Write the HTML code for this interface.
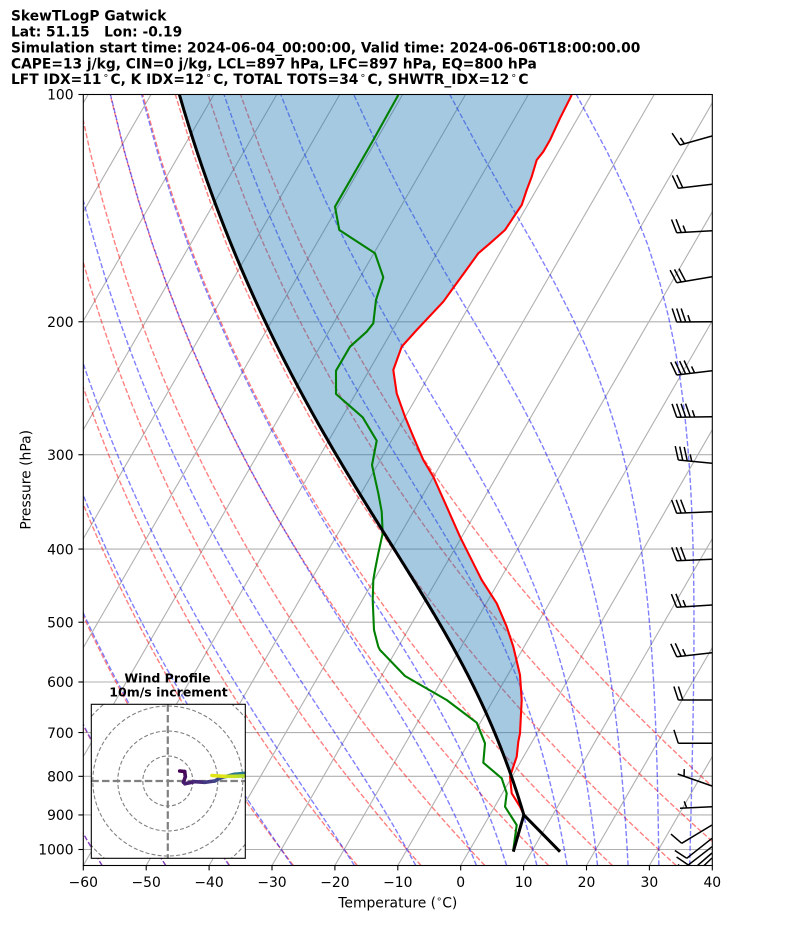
<!DOCTYPE html>
<html><head><meta charset="utf-8">
<style>
html,body{margin:0;padding:0;background:#fff;}
body{width:794px;height:937px;overflow:hidden;position:relative;}
svg text{font-family:"DejaVu Sans","Liberation Sans",sans-serif;fill:#000;}
</style></head><body>
<svg id="s" width="794" height="937" xmlns="http://www.w3.org/2000/svg" style="position:absolute;left:0;top:0">
<defs>
<clipPath id="ax"><rect x="83.3" y="94.5" width="629" height="771"/></clipPath>
<clipPath id="hc"><rect x="91.3" y="704.3" width="154" height="154"/></clipPath>
</defs>
<rect x="0" y="0" width="794" height="937" fill="#fff"/>
<g id="bg" clip-path="url(#ax)"></g>
<g id="dat" clip-path="url(#ax)"></g>
<g id="frm"></g>
<g id="hodo"></g>
<g font-weight="bold" font-size="13.8">
<text x="11" y="20.5">SkewTLogP Gatwick</text>
<text x="11" y="36.3">Lat: 51.15&#160;&#160; Lon: -0.19</text>
<text x="11" y="52.3">Simulation start time: 2024-06-04_00:00:00, Valid time: 2024-06-06T18:00:00.00</text>
<text x="11" y="68.3">CAPE=13 j/kg, CIN=0 j/kg, LCL=897 hPa, LFC=897 hPa, EQ=800 hPa</text>
<text x="11" y="84.2">LFT IDX=11<tspan font-size="9.7" font-weight="normal" dx="1.5" dy="-5.5">∘</tspan><tspan dx="1.5" dy="5.5">C, K IDX=12</tspan><tspan font-size="9.7" font-weight="normal" dx="1.5" dy="-5.5">∘</tspan><tspan dx="1.5" dy="5.5">C, TOTAL TOTS=34</tspan><tspan font-size="9.7" font-weight="normal" dx="1.5" dy="-5.5">∘</tspan><tspan dx="1.5" dy="5.5">C, SHWTR_IDX=12</tspan><tspan font-size="9.7" font-weight="normal" dx="1.5" dy="-5.5">∘</tspan><tspan dx="1.5" dy="5.5">C</tspan></text>
</g>
<text x="397.8" y="907.7" font-size="13.9" text-anchor="middle">Temperature (<tspan font-size="9.7" dy="-5.5">∘</tspan><tspan dy="5.5">C)</tspan></text>
<text transform="translate(30.5,479.8) rotate(-90)" font-size="13.9" text-anchor="middle">Pressure (hPa)</text>
<g id="tl" font-size="13.9"></g>
<g font-weight="bold" font-size="12.5" text-anchor="middle">
<text x="167.5" y="682.3">Wind Profile</text>
<text x="168.5" y="696.7">10m/s increment</text>
</g>
</svg>
<script>
(function(){
var L=83.3,R=712.3,T=94.5,B=865.5,SX=6.29,K=Math.tan(Math.PI/6);
function Y(p){return T+755*Math.log10(p/100);}
function X(t,p){return L+(t+60)*SX+(B-Y(p))*K;}
function f(v){return (+v).toFixed(2);}
function pl(pts,attrs){return '<polyline points="'+pts.map(function(q){return f(q[0])+','+f(q[1]);}).join(' ')+'" fill="none" '+attrs+'/>';}
var h='';
for(var t=-150;t<=40;t+=10){h+='<line x1="'+f(X(t,1050))+'" y1="'+f(Y(1050))+'" x2="'+f(X(t,100))+'" y2="'+f(Y(100))+'" stroke="#b0b0b0" stroke-width="1.1"/>';}
for(var p=100;p<=1000;p+=100){h+='<line x1="'+L+'" y1="'+f(Y(p))+'" x2="'+R+'" y2="'+f(Y(p))+'" stroke="#b0b0b0" stroke-width="1.1"/>';}
var P=[];for(var i=0;i<50;i++)P.push(1050-i*(950/49));
for(var t0=-60;t0<=50;t0+=10){
  var pts=P.map(function(p){var tt=(t0+273.15)*Math.pow(p/1000,0.28571)-273.15;return [X(tt,p),Y(p)];});
  h+=pl(pts,'stroke="#ff0000" stroke-opacity="0.5" stroke-width="1.39" stroke-dasharray="5.14 2.22"');
}
var Rd=287.04749,Cp=1004.6662,Lv=2.50084e6,EPS=0.6219569;
function dTdp(p,T){var es=6.112*Math.exp(17.67*(T-273.15)/(T-29.65));var rs=EPS*es/(p-es);return (Rd*T+Lv*rs)/(Cp+Lv*Lv*rs*EPS/(Rd*T*T))/p;}
function step(p,T,dp){var k1=dTdp(p,T),k2=dTdp(p+dp/2,T+dp/2*k1),k3=dTdp(p+dp/2,T+dp/2*k2),k4=dTdp(p+dp,T+dp*k3);return T+dp/6*(k1+2*k2+2*k3+k4);}
function moistTo(T,p0,p1){var n=Math.max(1,Math.ceil(Math.abs(p1-p0)/2));var dp=(p1-p0)/n;var p=p0;for(var i=0;i<n;i++){T=step(p,T,dp);p+=dp;}return T;}
var mt=[-60,-50,-40,-30,-20,-10,0,5,10,15,20,25,30,35,40];
mt.forEach(function(t0){
  var pts=P.map(function(p){var tt=moistTo(t0+273.15,1000,p)-273.15;return [X(tt,p),Y(p)];});
  h+=pl(pts,'stroke="#0000ff" stroke-opacity="0.5" stroke-width="1.39" stroke-dasharray="5.14 2.22"');
});
document.getElementById('bg').innerHTML=h;

var red=[[571.7,95],[560,118.3],[550,140],[543.3,151.7],[536.7,160],[531.7,176.7],[526.7,190],[521.7,205],[518.3,210],[505,230],[490,243.3],[478.3,253.3],[465,271.7],[451.7,290],[443.3,301.7],[416.7,330],[401.7,346.7],[393.3,370],[396.7,393.3],[405,416.7],[413.3,436.7],[423.3,460],[433.3,476.7],[446.7,506.7],[460,536.7],[470,556.7],[481.7,580],[496.7,603.3],[506.7,626.7],[513.3,646.7],[520,675],[521.7,700],[520,733.3],[518.3,741.7],[516.7,756.7],[513.3,766.7],[510,776.7],[511.7,793.3],[520,806.7],[524,815],[560,851.7]];
var grn=[[398.3,95],[373.3,140],[335,206.7],[339.3,230],[375,253.3],[383.3,277.3],[376,300],[373.3,323.3],[366.7,331.7],[350,346.7],[336,370.7],[336,394],[346.7,403.3],[362.7,417.3],[376.7,440.7],[372,465],[378.3,493.3],[381.7,511.7],[382.7,533.3],[378.3,553.3],[375,570],[373.3,580],[372.7,600],[374,630],[378.3,646.7],[380,650],[405,676],[446.7,700],[476.7,722.7],[485,743.3],[483.3,762.7],[501.7,778.3],[506.7,793.3],[505,806.7],[516.7,825],[513.3,850]];
var pLcl=900,tLcl=5.4;
var par=[];for(var pp=100;pp<=pLcl;pp+=5){var tt=moistTo(tLcl+273.15,pLcl,pp)-273.15;par.push([X(tt,pp),Y(pp)]);}
var lclX=X(tLcl,pLcl),lclY=Y(pLcl);
var fillPts=[];
par.forEach(function(q){if(q[1]<=777)fillPts.push(q);});
var rr=red.filter(function(q){return q[1]<=777;}).reverse();
fillPts=fillPts.concat(rr);
var d='';
d+='<polygon points="'+fillPts.map(function(q){return f(q[0])+','+f(q[1]);}).join(' ')+'" fill="#1f77b4" fill-opacity="0.4" stroke="none"/>';
d+=pl(red,'stroke="#ff0000" stroke-width="2.1" stroke-linejoin="round"');
d+=pl(grn,'stroke="#008000" stroke-width="2.1" stroke-linejoin="round"');
d+=pl(par.concat([[lclX,lclY],[560,851.7]]),'stroke="#000" stroke-width="3" stroke-linejoin="round"');
d+=pl([[513.3,851.7],[lclX,lclY]],'stroke="#000" stroke-width="3"');
function barb(bx,by,tx,ty,nf,nh){
  var dx=tx-bx,dy=ty-by,len=Math.sqrt(dx*dx+dy*dy),ux=dx/len,uy=dy/len,nx=-uy,ny=ux;
  var s='M'+f(bx)+','+f(by)+'L'+f(tx)+','+f(ty);
  var H=13.5,W=4.4,SP=4.5,off=0,px,py;
  for(var i=0;i<nf;i++){px=tx-ux*off;py=ty-uy*off;s+='M'+f(px)+','+f(py)+'L'+f(px+nx*H+ux*W)+','+f(py+ny*H+uy*W);off+=SP;}
  if(nh){if(nf==0)off+=1.5*SP;px=tx-ux*off;py=ty-uy*off;s+='M'+f(px)+','+f(py)+'L'+f(px+nx*H/2+ux*W/2)+','+f(py+ny*H/2+uy*W/2);}
  return '<path d="'+s+'" stroke="#000" stroke-width="1.5" fill="none" stroke-linecap="butt"/>';
}
var bl=[[712,136,680,145,1,1],[712,184.3,678.3,188.3,2,0],[712,230.7,676.7,232.7,2,1],[712,276.7,676.7,282.7,3,0],[712,321.7,676.7,322,3,1],[712,370.7,676.7,375,4,1],[712,416.7,676.7,417.3,4,1],[712,463.3,678.3,460,3,1],[712,511.7,676.7,513.3,3,0],[712,559.3,676.7,560.7,3,0],[712,605,676.7,607.3,2,1],[712,652.7,676.7,656.7,2,1],[712,700,678.3,700,2,0],[712,743.3,678.3,743.3,1,0],[712,786,677.7,774,0,1],[712,806.7,680,808.3,0,1],[712,825,681.7,843.3,1,0],[712,838.3,686.7,858.3,1,0],[712,846.7,688.3,865,1,0],[712,853,690,872,1,0],[712,858,692,877,1,0]];
bl.forEach(function(b){d+=barb(b[0],b[1],b[2],b[3],b[4],b[5]);});
document.getElementById('dat').innerHTML=d;

var fr='<rect x="'+L+'" y="'+T+'" width="'+(R-L)+'" height="'+(B-T)+'" fill="none" stroke="#000" stroke-width="1.1"/>';
var tl='';
for(var p=100;p<=1000;p+=100){var y=Y(p);fr+='<line x1="'+(L-4.9)+'" y1="'+f(y)+'" x2="'+L+'" y2="'+f(y)+'" stroke="#000" stroke-width="1.1"/>';tl+='<text x="73.6" y="'+f(y+5.2)+'" text-anchor="end">'+p+'</text>';}
for(var t=-60;t<=40;t+=10){var x=L+(t+60)*SX;fr+='<line x1="'+f(x)+'" y1="'+B+'" x2="'+f(x)+'" y2="'+(B+4.9)+'" stroke="#000" stroke-width="1.1"/>';tl+='<text x="'+f(x)+'" y="887" text-anchor="middle">'+(t<0?'\u2212'+(-t):t)+'</text>';}
document.getElementById('frm').innerHTML=fr;
document.getElementById('tl').innerHTML=tl;

var cx=167.8,cy=781;
var ho='<rect x="91.3" y="704.3" width="154" height="154" fill="#fff" stroke="none"/>';
ho+='<g clip-path="url(#hc)">';
[25,50,75,100].forEach(function(r){ho+='<circle cx="'+cx+'" cy="'+cy+'" r="'+r+'" fill="none" stroke="#808080" stroke-width="1.1" stroke-dasharray="4 2.2"/>';});
ho+='<line x1="91.3" y1="'+cy+'" x2="245.3" y2="'+cy+'" stroke="#808080" stroke-width="2.2" stroke-dasharray="7.5 3.2"/>';
ho+='<line x1="'+cx+'" y1="704.3" x2="'+cx+'" y2="858.3" stroke="#808080" stroke-width="2.2" stroke-dasharray="7.5 3.2"/>';
var hp=[[179.7,771],[184.7,771.5],[185.3,776.7],[183.5,782.3],[185,783.7],[194.7,781.7],[204.7,782.3],[214.7,781],[219.7,778.3],[224.7,776.7],[234.7,774.3],[246,773.3],[250,773.3],[250,775.8],[246,775.8],[235,776.3],[224,776.3],[212,775.5]];
var hc=['#440154','#46085c','#471063','#481769','#481f70','#472a7a','#443983','#3f4889','#3b528b','#31688e','#2a788e','#25858e','#8fd744','#9fda3a','#b5de2b','#c8e020','#e2e418'];
for(var i=0;i<hp.length-1;i++){ho+='<line x1="'+hp[i][0]+'" y1="'+hp[i][1]+'" x2="'+hp[i+1][0]+'" y2="'+hp[i+1][1]+'" stroke="'+hc[Math.min(i,hc.length-1)]+'" stroke-width="3.6" stroke-linecap="round"/>';}
ho+='</g>';
ho+='<rect x="91.3" y="704.3" width="154" height="154" fill="none" stroke="#000" stroke-width="1.1"/>';
document.getElementById('hodo').innerHTML=ho;
})();
</script>
</body></html>
